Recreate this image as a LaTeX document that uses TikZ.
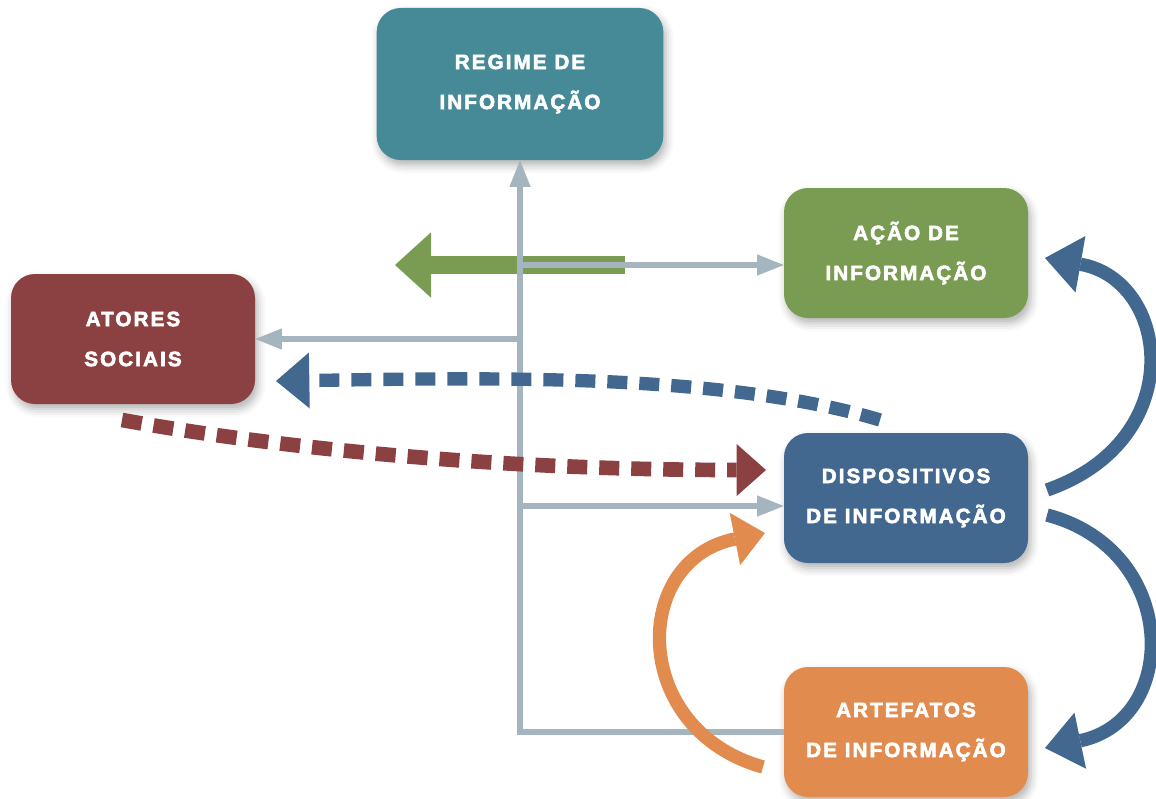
\documentclass[tikz,border=0pt]{standalone}
\usepackage{fontspec}
\newfontfamily\boxfont[LetterSpace=10, BoldFeatures={FakeBold=3}]{Liberation Sans}
\usepackage{tikz}
\usetikzlibrary{positioning}
\usetikzlibrary{arrows.meta}
\usetikzlibrary{calc,shadows.blur}
\definecolor{regteal}{RGB}{71,138,151}
\definecolor{acgreen}{RGB}{122,155,82}
\definecolor{atred}{RGB}{139,65,65}
\definecolor{dispblue}{RGB}{67,104,143}
\definecolor{artorange}{RGB}{225,139,79}
\definecolor{linkgray}{RGB}{164,181,191}

\begin{document}
\begin{tikzpicture}[x=0.75pt,y=-0.75pt]
	\useasboundingbox (0,0) rectangle (1156,799);

	\begin{scope}[every node/.style={rounded corners=18pt, text=white, align=center, inner sep=0pt,
	              minimum width=183pt, minimum height=97.5pt,
	              font=\boxfont\bfseries\fontsize{15.5}{30}\selectfont,
	              blur shadow={shadow xshift=2pt, shadow yshift=-4pt, shadow blur radius=6pt, shadow opacity=30}}]
	    \node (regime) [fill=regteal, minimum width=215pt, minimum height=114pt] at (520,84) {REGIME DE\\INFORMAÇÃO};
	    \node (acao) [fill=acgreen] at (906,253) {AÇÃO DE\\INFORMAÇÃO};
	    \node (atores) [fill=atred] at (133,339) {ATORES\\SOCIAIS};
	    \node (disp) [fill=dispblue] at (906,498) {DISPOSITIVOS\\DE INFORMAÇÃO};
	    \node (artef) [fill=artorange] at (906,732) {ARTEFATOS\\DE INFORMAÇÃO};
	\end{scope}

	% free ends of the curved arrows
	\coordinate (gstart) at (625,265);
	\coordinate (gtip) at (395,265);
	\coordinate (toacao) at (520,265);
	\coordinate (todisp) at (520,506);
	\coordinate (bstart) at (880,420);
	\coordinate (btip) at (276,381);
	\coordinate (rstart) at (122,420);
	\coordinate (rtip) at (766,470);
	\coordinate (upstart) at (1047,490);
	\coordinate (uptip) at (1045,258);
	\coordinate (downstart) at (1047,515);
	\coordinate (downtip) at (1045,748);
	\coordinate (orstart) at (763,767);
	\coordinate (ortip) at (765,533);

	% green arrow under the gray lines
	\draw [acgreen, line width=13.5pt, -{Triangle[length=27pt,width=49pt,line width=0pt]}] (gstart) -- (gtip);

	\begin{scope}[>={Triangle[length=20pt,width=16pt,line width=0pt]},
	              every edge/.style={draw=linkgray, line width=4pt}]
	    \draw [->, linkgray, line width=4pt] (artef.west) -| (regime.south);
	    \path [->] (regime.south |- atores.east) edge (atores.east);
	    \path [->] (toacao) edge (toacao -| acao.west);
	    \path [->] (todisp) edge (todisp -| disp.west);
	\end{scope}

	\begin{scope}[dash pattern=on 15pt off 9pt]
	    \draw [dispblue, line width=10pt, -{Triangle[length=25pt,width=42pt,line width=0pt]}]
	        (bstart) .. controls (720,372) and (480,378) .. (btip);
	    \draw [atred, line width=11pt, -{Triangle[length=22pt,width=39pt,line width=0pt]}]
	        (rstart) .. controls (300,452) and (520,470) .. (rtip);
	\end{scope}

	\begin{scope}[line width=10pt]
	    \draw [dispblue, -{Triangle[length=27pt,width=43pt,line width=0pt]}]
	        (upstart) .. controls (1190,440) and (1170,280) .. (uptip);
	    \draw [dispblue, -{Triangle[length=27pt,width=43pt,line width=0pt]}]
	        (downstart) .. controls (1180,550) and (1180,720) .. (downtip);
	    \draw [artorange, -{Triangle[length=23pt,width=40pt,line width=0pt]}]
	        (orstart) .. controls (630,730) and (630,560) .. (ortip);
	\end{scope}
\end{tikzpicture}
\end{document}
